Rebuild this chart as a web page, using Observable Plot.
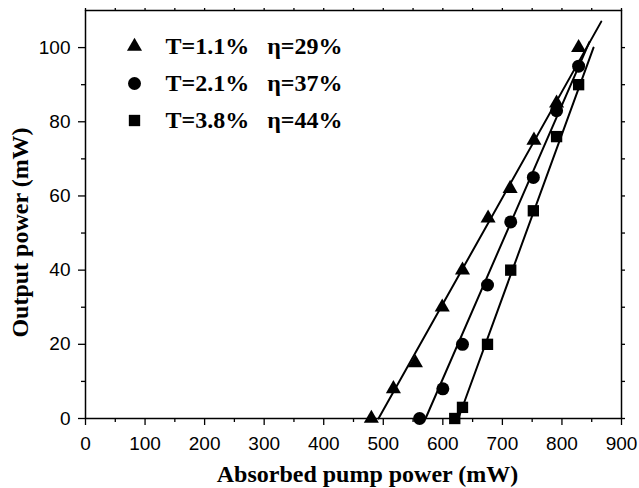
<!DOCTYPE html>
<html><head><meta charset="utf-8">
<script src="https://cdn.jsdelivr.net/npm/d3@7"></script>
<script src="https://cdn.jsdelivr.net/npm/@observablehq/plot@0.6"></script>
<style>
body{margin:0;background:#fff}
#chart svg{display:block}
</style>
</head><body><div id="chart"></div>
<script>
// ---- data ----
const seriesLabels = ["T=1.1%", "T=2.1%", "T=3.8%"];
const efficiencyLabels = ["η=29%", "η=37%", "η=44%"];
const seriesSymbols = ["triangle", "circle", "square"];

const pumpT11 = [480, 517, 554, 599, 633, 676, 713, 753, 791, 828];
const outT11  = [0, 8, 15, 30, 40, 54, 62, 75, 85, 100];
const pumpT21 = [561, 600, 633, 675, 714, 752, 791, 828];
const outT21  = [0, 8, 20, 36, 53, 65, 83, 95];
const pumpT38 = [620, 633, 675, 714, 752, 791, 828];
const outT38  = [0, 3, 20, 40, 56, 76, 90];

// linear fits: start/end pump power and output power
const fitPump = [[492, 866], [571, 846], [626, 853]];
const fitOut  = [[0, 107], [0, 101.5], [0, 100]];

const xTicks = [0, 100, 200, 300, 400, 500, 600, 700, 800, 900];
const xMinorTicks = [50, 150, 250, 350, 450, 550, 650, 750, 850];
const yTicks = [0, 20, 40, 60, 80, 100];
const yMinorTicks = [10, 30, 50, 70, 90];

const xTitle = "Absorbed pump power (mW)";
const yTitle = "Output power (mW)";

// ---- build tables ----
const pumps = [pumpT11, pumpT21, pumpT38];
const outs = [outT11, outT21, outT38];
const points = pumps.map((xs, i) => xs.map((x, j) => ({x, y: outs[i][j]})));
const fits = fitPump.flatMap((xs, i) => xs.map((x, j) => ({s: i, x, y: fitOut[i][j]})));
const dotR = [5.6, 6.5, 6.4];

const serif = "'Liberation Serif', 'Times New Roman', serif";
const sans = "'Liberation Sans', Arial, sans-serif";
const noText = () => "";

const legendRows = seriesLabels.map((s, i) => ({
  sym: seriesSymbols[i],
  label: s + "\u00a0\u00a0\u00a0" + efficiencyLabels[i],
  i
}));
const rowDy = [36, 73, 110];

const chart = Plot.plot({
  width: 639,
  height: 488,
  marginLeft: 85,
  marginRight: 18,
  marginTop: 10,
  marginBottom: 70,
  style: {fontFamily: sans, fontSize: "19px", color: "black", background: "white"},
  x: {domain: [0, 900]},
  y: {domain: [0, 110]},
  marks: [
    // bottom axis
    Plot.axisX({ticks: xTicks, tickSize: 7, tickPadding: 11, tickFormat: d => String(d), label: null, strokeWidth: 1.3}),
    Plot.axisX({ticks: xMinorTicks, tickSize: 4, tickFormat: noText, label: null, strokeWidth: 1.3}),
    // top axis
    Plot.axisX({anchor: "top", ticks: xTicks.concat(xMinorTicks), tickSize: 3, tickFormat: noText, label: null, strokeWidth: 1.3}),
    // left axis
    Plot.axisY({ticks: yTicks, tickSize: 7, tickPadding: 8, tickFormat: d => String(d), label: null, strokeWidth: 1.3}),
    Plot.axisY({ticks: yMinorTicks, tickSize: 4, tickFormat: noText, label: null, strokeWidth: 1.3}),
    // right axis
    Plot.axisY({anchor: "right", ticks: yTicks.concat(yMinorTicks), tickSize: 3, tickFormat: noText, label: null, strokeWidth: 1.3}),
    Plot.frame({stroke: "black", strokeWidth: 1.5}),
    // fitted lines
    Plot.line(fits, {x: "x", y: "y", z: "s", stroke: "black", strokeWidth: 2}),
    // data points
    ...points.map((pts, i) => Plot.dot(pts, {x: "x", y: "y", symbol: () => seriesSymbols[i], r: dotR[i], fill: "black", stroke: "none"})),
    // legend
    ...legendRows.map((row, k) => Plot.dot([row], {frameAnchor: "top-left", dx: 49, dy: rowDy[k], symbol: "sym", r: dotR[k], fill: "black"})),
    ...legendRows.map((row, k) => Plot.text([row], {frameAnchor: "top-left", dx: 80, dy: rowDy[k], text: "label", textAnchor: "start", lineAnchor: "middle", fontFamily: serif, fontWeight: "bold", fontSize: 24, fill: "black"})),
    // axis titles
    Plot.text([xTitle], {frameAnchor: "bottom", dx: 14, dy: 63, text: d => d, textAnchor: "middle", lineAnchor: "bottom", fontFamily: serif, fontWeight: "bold", fontSize: 24, fill: "black"}),
    Plot.text([yTitle], {frameAnchor: "left", dx: -58, dy: 18, text: d => d, textAnchor: "middle", rotate: -90, lineAnchor: "bottom", fontFamily: serif, fontWeight: "bold", fontSize: 24, fill: "black"})
  ]
});
document.getElementById("chart").append(chart);
</script>
</body></html>
